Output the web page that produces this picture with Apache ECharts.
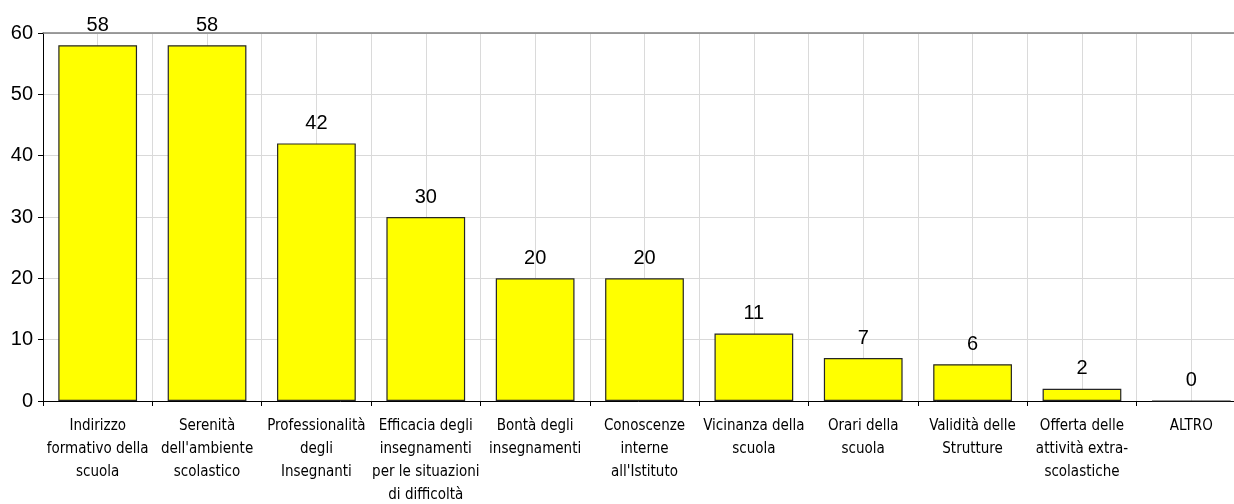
<!DOCTYPE html>
<html>
<head>
<meta charset="utf-8">
<script src="https://cdn.jsdelivr.net/npm/echarts@6/dist/echarts.min.js"></script>
<style>
  html, body { margin: 0; padding: 0; background: #fff; }
  #chart { width: 1234px; height: 504px; }
</style>
</head>
<body>
<div id="chart"></div>
<script>
var categories = [
    'Indirizzo\nformativo della\nscuola',
    'Serenità\ndell\'ambiente\nscolastico',
    'Professionalità\ndegli\nInsegnanti',
    'Efficacia degli\ninsegnamenti\nper le situazioni\ndi difficoltà',
    'Bontà degli\ninsegnamenti',
    'Conoscenze\ninterne\nall\'Istituto',
    'Vicinanza della\nscuola',
    'Orari della\nscuola',
    'Validità delle\nStrutture',
    'Offerta delle\nattività extra-\nscolastiche',
    'ALTRO'
]
var values = [58, 58, 42, 30, 20, 20, 11, 7, 6, 2, 0]
var yTicks = [0, 10, 20, 30, 40, 50, 60]

// half-slot axis, only used to draw the light lines through bar centres
var halfSlots = []
for (var i = 0; i < categories.length * 2; i++) {
    halfSlots.push('')
}

var myChart = echarts.init(document.getElementById('chart'))

var option = {
    animation: false,
    grid: {
        left: 43,
        right: -12,
        top: 33,
        bottom: 103,
        outerBoundsMode: 'none',
    },
    xAxis: [
        {
            type: 'category',
            data: categories,
            boundaryGap: true,
            axisLine: { lineStyle: { color: '#000', width: 1 } },
            axisTick: { show: true, length: 5, lineStyle: { color: '#000' } },
            axisLabel: {
                interval: 0,
                margin: 14,
                color: '#000',
                fontFamily: "'DejaVu Sans Condensed', 'Liberation Sans', sans-serif",
                fontSize: 15,
                lineHeight: 23,
            },
            splitLine: { show: true, lineStyle: { color: '#bfbfbf', width: 1 } },
        },
        {
            type: 'category',
            data: halfSlots,
            position: 'top',
            boundaryGap: true,
            axisLine: { show: true, lineStyle: { color: '#808080', width: 1.5 } },
            axisTick: { show: false },
            axisLabel: { show: false },
            splitLine: { show: true, lineStyle: { color: '#dadada', width: 1 } },
        }
    ],
    yAxis: {
        type: 'value',
        min: yTicks[0],
        max: yTicks[yTicks.length - 1],
        interval: 10,
        axisLine: { show: true, lineStyle: { color: '#000', width: 1 } },
        axisTick: { show: true, length: 5, lineStyle: { color: '#000' } },
        axisLabel: {
            margin: 10,
            color: '#000',
            fontFamily: 'Liberation Sans',
            fontSize: 20,
        },
        splitLine: { show: true, lineStyle: { color: '#d9d9d9', width: 1 } },
    },
    series: [
        {
            type: 'bar',
            data: values,
            barWidth: '72%',
            itemStyle: {
                color: '#ffff00',
                borderColor: '#262626',
                borderWidth: 1.2,
            },
            label: {
                show: true,
                position: 'top',
                distance: 10,
                color: '#000',
                fontFamily: 'Liberation Sans',
                fontSize: 20,
            },
        }
    ]
}

myChart.setOption(option)
</script>
</body>
</html>
